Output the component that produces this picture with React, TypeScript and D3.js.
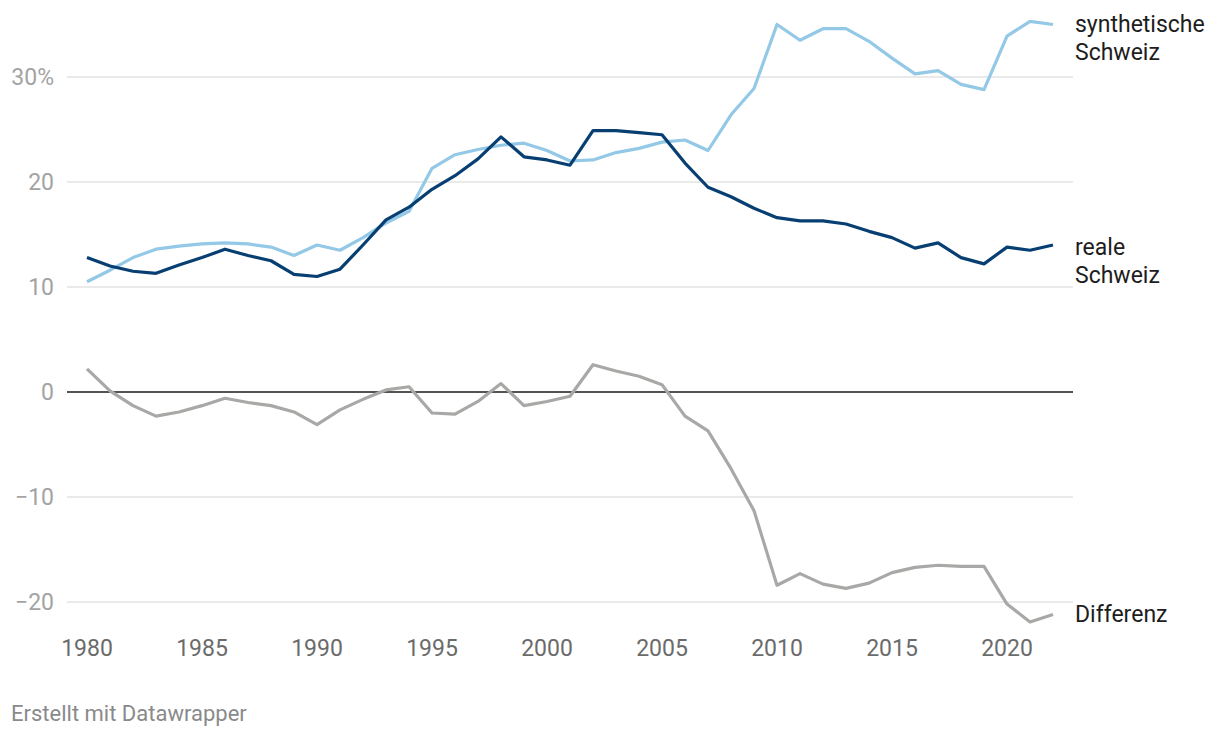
import React, { useEffect, useRef } from "react"
import * as d3 from "d3"

const years = d3.range(1980, 2023)
// reale Schweiz
const real = [12.8, 12.0, 11.5, 11.3, 12.1, 12.8, 13.6, 13.0, 12.5, 11.2, 11.0, 11.7, 14.0, 16.4, 17.6, 19.3, 20.6, 22.2, 24.3, 22.4, 22.1, 21.6, 24.9, 24.9, 24.7, 24.5, 21.8, 19.5, 18.6, 17.5, 16.6, 16.3, 16.3, 16.0, 15.3, 14.7, 13.7, 14.2, 12.8, 12.2, 13.8, 13.5, 14.0]
// synthetische Schweiz
const synth = [10.5, 11.6, 12.8, 13.6, 13.9, 14.1, 14.2, 14.1, 13.8, 13.0, 14.0, 13.5, 14.7, 16.1, 17.2, 21.3, 22.6, 23.1, 23.5, 23.7, 23.0, 22.0, 22.1, 22.8, 23.2, 23.8, 24.0, 23.0, 26.4, 28.9, 35.0, 33.5, 34.6, 34.6, 33.4, 31.8, 30.3, 30.6, 29.3, 28.8, 33.9, 35.3, 35.0]
// Differenz
const diff = [2.2, 0.1, -1.3, -2.3, -1.9, -1.3, -0.6, -1.0, -1.3, -1.9, -3.1, -1.7, -0.7, 0.2, 0.5, -2.0, -2.1, -0.9, 0.8, -1.3, -0.9, -0.4, 2.6, 2.0, 1.5, 0.7, -2.3, -3.7, -7.3, -11.3, -18.4, -17.3, -18.3, -18.7, -18.2, -17.2, -16.7, -16.5, -16.6, -16.6, -20.2, -21.9, -21.2]

const yTicks = [-20, -10, 0, 10, 20, 30]
const xTicks = [1980, 1985, 1990, 1995, 2000, 2005, 2010, 2015, 2020]

const series = [
  { name: ["synthetische", "Schweiz"], values: synth, color: "#93c8e6", baseline: 31.5 },
  { name: ["reale", "Schweiz"], values: real, color: "#073f73", baseline: 255 },
  { name: ["Differenz"], values: diff, color: "#a8a8a6", baseline: 621.5 },
]

export default function App() {
  const ref = useRef(null)

  useEffect(() => {
    document.body.style.margin = "0"
    const width = 1220, height = 738
    const font = "Roboto, 'Noto Sans', sans-serif"

    const svg = d3.select(ref.current)
    svg.selectAll("*").remove()
    svg.attr("width", width).attr("height", height)

    const x = d3.scaleLinear().domain([1980, 2022]).range([87, 1053])
    const y = d3.scaleLinear().domain([0, 30]).range([392, 77])

    // gridlines
    svg.append("g")
      .selectAll("line")
      .data(yTicks.filter(d => d !== 0))
      .enter()
      .append("line")
      .attr("x1", 67).attr("x2", 1073)
      .attr("y1", d => y(d)).attr("y2", d => y(d))
      .attr("stroke", "#e3e3e3")
      .attr("stroke-width", 1.5)

    // y labels
    svg.append("g")
      .selectAll("text")
      .data(yTicks)
      .enter()
      .append("text")
      .attr("x", 54)
      .attr("y", d => y(d) + 8.3)
      .attr("text-anchor", "end")
      .style("font-family", font)
      .style("font-size", "23px")
      .style("fill", "#a3a3a3")
      .text(d => (d === 30 ? "30%" : d < 0 ? "\u2212" + Math.abs(d) : String(d)))

    // x labels
    svg.append("g")
      .selectAll("text")
      .data(xTicks)
      .enter()
      .append("text")
      .attr("x", d => x(d))
      .attr("y", 655.5)
      .attr("text-anchor", "middle")
      .style("font-family", font)
      .style("font-size", "23px")
      .style("fill", "#6b6b6b")
      .text(d => String(d))

    // zero line
    svg.append("line")
      .attr("x1", 67).attr("x2", 1073)
      .attr("y1", y(0)).attr("y2", y(0))
      .attr("stroke", "#1a1a1a")
      .attr("stroke-width", 1.6)

    const line = d3.line<number>()
      .x((d, i) => x(years[i]))
      .y(d => y(d))

    // diff first, then synthetic, then real on top
    const order = [series[2], series[0], series[1]]
    order.forEach(s => {
      svg.append("path")
        .datum(s.values)
        .attr("d", line)
        .attr("fill", "none")
        .attr("stroke", s.color)
        .attr("stroke-width", 3.2)
        .attr("stroke-linejoin", "round")
    })

    // line labels
    series.forEach(s => {
      const t = svg.append("text")
        .attr("x", 1075)
        .attr("y", s.baseline)
        .style("font-family", font)
        .style("font-size", "23px")
        .style("fill", "#1d1d1d")
      s.name.forEach((n, i) => {
        t.append("tspan").attr("x", 1075).attr("dy", i === 0 ? 0 : 28.3).text(n)
      })
    })

    svg.append("text")
      .attr("x", 11)
      .attr("y", 720.7)
      .style("font-family", font)
      .style("font-size", "22px")
      .style("fill", "#8a8a8a")
      .text("Erstellt mit Datawrapper")
  }, [])

  return <svg ref={ref} style={{ display: "block", background: "#fff" }}></svg>
}
